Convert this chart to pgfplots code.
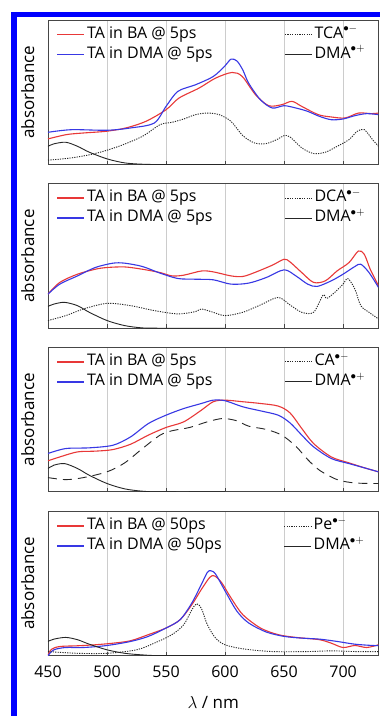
\documentclass[border=0pt]{standalone}
\usepackage{pgfplots}
\pgfplotsset{compat=1.18}
\usepackage{fontspec}
\setmainfont{Open Sans}
\definecolor{tared}{RGB}{232,56,56}
\definecolor{tablue}{RGB}{56,56,228}
\definecolor{framegray}{RGB}{70,70,70}
\pgfplotsset{
  axA/.style={scale only axis, width=330.5pt, height=144.5pt,
    xmin=450, xmax=730, ymin=0, ymax=1, anchor=north west,
    legend cell align=left, legend columns=2,
    legend image code/.code={\draw[##1] (0pt,0pt) -- (27pt,0pt);},
    legend style={draw=none, fill=none, inner sep=0pt,
      at={(axis description cs:0.025,0.965)}, anchor=north west,
      font=\fontsize{16}{16}\selectfont,
      nodes={inner ysep=2pt, text height=11pt, text depth=3.5pt},
      row sep=1.5pt, /tikz/column 2/.style={column sep=70pt}},
    axis line style={draw=framegray, line width=0.9pt},
    xtick={450,500,...,700}, ytick=\empty,
    xmajorgrids, grid style={black!20, line width=0.9pt},
    tick style={framegray, line width=0.9pt}, major tick length=4pt,
    xtick pos=bottom, tick align=inside, xticklabels={},
    ylabel={absorbance},
    every axis y label/.style={at={(axis description cs:-0.061,0.5)}, rotate=90, anchor=center, font=\fontsize{17}{17}\selectfont}},
  redl/.style={draw=tared, line width=1.1pt, smooth},
  bluel/.style={draw=tablue, line width=1.1pt, smooth},
  dotl/.style={draw=black!85, line width=0.9pt, dash pattern=on 1.2pt off 1.2pt, smooth},
  dashl/.style={draw=black!85, line width=0.9pt, dash pattern=on 9pt off 6pt, smooth},
  soll/.style={draw=black!85, line width=0.9pt, smooth},
  redleg/.style={draw=tared, line width=1.6pt},
  blueleg/.style={draw=tablue, line width=1.6pt},
  dotleg/.style={draw=black!85, line width=0.9pt, dash pattern=on 1.2pt off 1.2pt},
  solleg/.style={draw=black!85, line width=0.9pt},
}
\begin{document}
\begin{tikzpicture}
\path[use as bounding box] (0,0) rectangle (380pt,-716pt);
\fill[white] (0,0) rectangle (380pt,-716pt);
\draw[blue, line width=5.5pt] (11pt,-14.5pt) -- (390pt,-14.5pt);
\draw[blue, line width=5.5pt] (13.8pt,-11.75pt) -- (13.8pt,-730pt);

% ---------------- Panel 1 ----------------
\begin{axis}[axA, at={(48pt,-20pt)}]
\addlegendimage{redleg}
\addlegendentry{TA in BA @ 5ps}
\addlegendimage{dotleg}
\addlegendentry{TCA$^{\bullet-}$}
\addlegendimage{blueleg}
\addlegendentry{TA in DMA @ 5ps}
\addlegendimage{solleg}
\addlegendentry{DMA$^{\bullet+}$}
\addplot[redl, forget plot] coordinates {(450,0.177)(465.7,0.207)(479.8,0.218)(499.4,0.230)(516,0.253)(533,0.299)(550,0.379)(561,0.460)(578,0.529)(592,0.598)(606,0.637)(614.6,0.609)(625.8,0.483)(637,0.407)(648,0.414)(656.7,0.437)(665,0.402)(679,0.345)(690,0.329)(701.7,0.322)(713,0.356)(724,0.352)(730,0.356)};
\addplot[bluel, forget plot] coordinates {(450,0.223)(470,0.241)(500,0.237)(520,0.253)(540,0.287)(550,0.402)(560,0.506)(575,0.552)(590,0.609)(600,0.683)(605,0.729)(610,0.717)(615,0.655)(620,0.563)(630,0.448)(640,0.391)(650,0.407)(660,0.391)(670,0.368)(680,0.333)(690,0.310)(700,0.315)(710,0.338)(720,0.352)(730,0.345)};
\addplot[dotl, forget plot] coordinates {(450,0.030)(470,0.046)(490,0.076)(510,0.126)(530,0.195)(545,0.276)(555,0.292)(565,0.315)(575,0.345)(585,0.356)(595,0.345)(605,0.299)(615,0.200)(625,0.149)(635,0.145)(645,0.177)(650,0.200)(655,0.191)(665,0.115)(675,0.076)(685,0.085)(695,0.126)(705,0.172)(712,0.230)(718,0.241)(725,0.172)(730,0.126)};
\addplot[soll, forget plot] coordinates {(450,0.126)(455,0.143)(465,0.154)(475,0.126)(485,0.085)(500,0.039)(515,0.011)(530,0.002)(545,0)(600,0)};
\end{axis}

% ---------------- Panel 2 ----------------
\begin{axis}[axA, at={(48pt,-183.7pt)}]
\addlegendimage{redleg}
\addlegendentry{TA in BA @ 5ps}
\addlegendimage{dotleg}
\addlegendentry{DCA$^{\bullet-}$}
\addlegendimage{blueleg}
\addlegendentry{TA in DMA @ 5ps}
\addlegendimage{solleg}
\addlegendentry{DMA$^{\bullet+}$}
\addplot[redl, forget plot] coordinates {(450,0.236)(460,0.317)(475,0.374)(490,0.408)(500,0.420)(515,0.424)(530,0.408)(545,0.385)(555,0.362)(565,0.367)(580,0.396)(590,0.390)(605,0.362)(615,0.358)(625,0.385)(640,0.436)(650,0.477)(655,0.459)(665,0.385)(675,0.317)(685,0.328)(695,0.397)(705,0.454)(713,0.534)(718,0.511)(723,0.408)(730,0.294)};
\addplot[bluel, forget plot] coordinates {(450,0.236)(460,0.305)(475,0.362)(490,0.420)(505,0.450)(515,0.450)(530,0.427)(545,0.381)(560,0.344)(575,0.339)(590,0.335)(605,0.305)(620,0.312)(635,0.351)(650,0.404)(660,0.362)(670,0.305)(678,0.289)(690,0.328)(700,0.374)(710,0.427)(715,0.443)(722,0.385)(730,0.282)};
\addplot[dotl, forget plot] coordinates {(450,0.053)(465,0.087)(480,0.133)(500,0.172)(520,0.156)(540,0.122)(560,0.099)(575,0.115)(580,0.133)(590,0.110)(600,0.087)(615,0.110)(630,0.161)(645,0.213)(655,0.161)(665,0.110)(675,0.110)(683,0.229)(686,0.206)(692,0.241)(700,0.305)(704,0.344)(710,0.271)(715,0.156)(722,0.110)(730,0.064)};
\addplot[soll, forget plot] coordinates {(450,0.151)(455,0.167)(464,0.179)(475,0.156)(485,0.110)(500,0.053)(515,0.018)(530,0.002)(545,0)(600,0)};
\end{axis}

% ---------------- Panel 3 ----------------
\begin{axis}[axA, at={(48pt,-347.4pt)}]
\addlegendimage{redleg}
\addlegendentry{TA in BA @ 5ps}
\addlegendimage{dotleg}
\addlegendentry{CA$^{\bullet-}$}
\addlegendimage{blueleg}
\addlegendentry{TA in DMA @ 5ps}
\addlegendimage{solleg}
\addlegendentry{DMA$^{\bullet+}$}
\addplot[redl, forget plot] coordinates {(450,0.215)(460,0.242)(475,0.277)(490,0.282)(505,0.293)(520,0.330)(535,0.393)(550,0.446)(565,0.485)(580,0.566)(590,0.624)(600,0.635)(615,0.624)(630,0.612)(645,0.594)(655,0.547)(665,0.439)(675,0.335)(690,0.242)(705,0.201)(720,0.162)(730,0.139)};
\addplot[bluel, forget plot] coordinates {(450,0.266)(465,0.300)(485,0.305)(505,0.323)(520,0.381)(535,0.473)(550,0.531)(565,0.577)(580,0.612)(590,0.635)(600,0.631)(615,0.589)(630,0.561)(645,0.531)(655,0.478)(665,0.393)(675,0.312)(690,0.231)(705,0.196)(720,0.162)(730,0.139)};
\addplot[dashl, forget plot] coordinates {(450,0.099)(465,0.085)(480,0.099)(500,0.139)(515,0.201)(530,0.300)(545,0.393)(555,0.423)(570,0.446)(585,0.485)(598,0.508)(610,0.492)(620,0.455)(635,0.432)(648,0.393)(660,0.316)(670,0.224)(680,0.150)(695,0.085)(710,0.062)(730,0.058)};
\addplot[soll, forget plot] coordinates {(450,0.162)(455,0.185)(464,0.196)(475,0.162)(485,0.115)(500,0.058)(515,0.021)(530,0.005)(545,0)(600,0)};
\end{axis}

% ---------------- Panel 4 ----------------
\begin{axis}[axA, at={(48pt,-511.1pt)},
  legend style={at={(axis description cs:0.025,0.962)}, /tikz/column 2/.style={column sep=60pt}},
  xticklabels={450,500,550,600,650,700},
  xticklabel style={font=\fontsize{16}{16}\selectfont},
  xticklabel shift=7pt,
  /pgf/number format/assume math mode=true,
  xlabel={$\lambda$ / nm},
  every axis x label/.style={at={(axis description cs:0.5,-0.325)}, anchor=center, font=\fontsize{17}{17}\selectfont}]
\addlegendimage{redleg}
\addlegendentry{TA in BA @ 50ps}
\addlegendimage{dotleg}
\addlegendentry{Pe$^{\bullet-}$}
\addlegendimage{blueleg}
\addlegendentry{TA in DMA @ 50ps}
\addlegendimage{solleg}
\addlegendentry{DMA$^{\bullet+}$}
\addplot[redl, forget plot] coordinates {(450,0.005)(453,0.044)(460,0.063)(475,0.068)(490,0.075)(505,0.086)(520,0.103)(535,0.145)(550,0.191)(562,0.249)(572,0.354)(580,0.459)(587,0.541)(591,0.552)(597,0.506)(605,0.400)(615,0.284)(630,0.191)(645,0.145)(660,0.126)(680,0.110)(690,0.086)(700,0.056)(710,0.070)(720,0.056)(730,0.075)};
\addplot[bluel, forget plot] coordinates {(450,0)(455,0.040)(465,0.056)(480,0.056)(500,0.070)(520,0.098)(535,0.133)(550,0.191)(562,0.249)(572,0.366)(580,0.494)(585,0.576)(588,0.587)(592,0.564)(600,0.448)(610,0.308)(620,0.226)(635,0.163)(650,0.133)(665,0.121)(680,0.114)(695,0.098)(710,0.079)(725,0.070)(730,0.070)};
\addplot[dotl, forget plot] coordinates {(450,0.028)(475,0.016)(500,0.016)(525,0.040)(540,0.086)(555,0.145)(565,0.214)(572,0.319)(576,0.359)(580,0.326)(585,0.214)(592,0.121)(600,0.075)(615,0.047)(640,0.028)(670,0.028)(690,0.033)(710,0.028)(730,0.028)};
\addplot[soll, forget plot] coordinates {(450,0.098)(455,0.114)(465,0.126)(475,0.110)(485,0.079)(500,0.040)(515,0.016)(530,0.005)(545,0)(600,0)};
\end{axis}
\end{tikzpicture}
\end{document}
